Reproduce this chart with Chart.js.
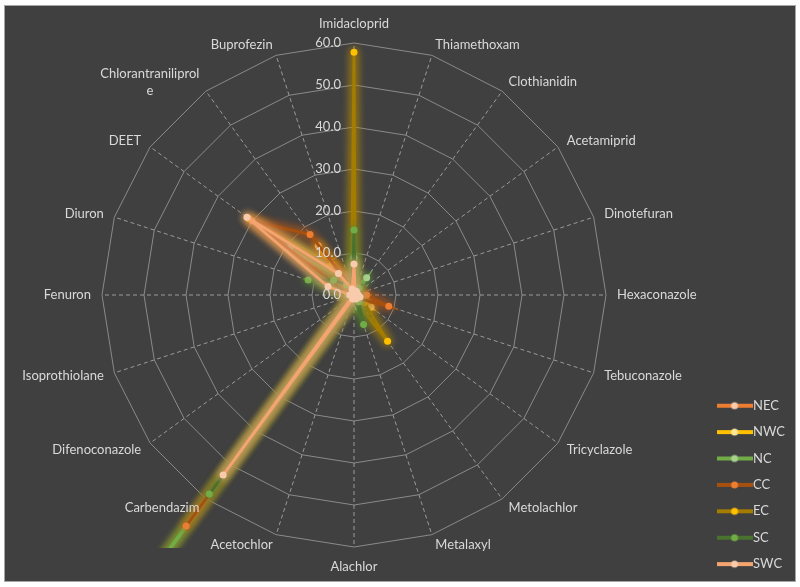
<!DOCTYPE html>
<html>
<head>
<meta charset="utf-8">
<script src="https://cdn.jsdelivr.net/npm/chart.js@4.4.1/dist/chart.umd.min.js"></script>
<style>
  html, body { margin: 0; padding: 0; background: #ffffff; }
  canvas { display: block; }
</style>
</head>
<body>
<canvas id="c" width="800" height="587"></canvas>
<script>
// ---------- data ----------
const categories = ['Imidacloprid','Thiamethoxam','Clothianidin','Acetamiprid','Dinotefuran','Hexaconazole',
  'Tebuconazole','Tricyclazole','Metolachlor','Metalaxyl','Alachlor','Acetochlor','Carbendazim',
  'Difenoconazole','Isoprothiolane','Fenuron','Diuron','DEET',['Chlorantraniliprol','e'],'Buprofezin'];

const seriesNames = ['NEC','NWC','NC','CC','EC','SC','SWC'];

const NEC = [2.5, 1.0, 1.5, 0.5, 0.5, 1.5, 2.0, 1.0, 1.0, 0.8, 0.3, 0.5, 1.5, 0.5, 0.5, 1.0, 2.5, 3.0, 3.0, 1.5];
const NWC = [3.0, 1.0, 1.0, 0.5, 0.5, 1.0, 2.0, 5.0, 2.0, 1.0, 0.5, 1.0, 2.0, 0.5, 0.5, 1.0, 3.0, 5.0, 14.5, 2.0];
const NC  = [8.9, 2.0, 5.1, 1.0, 0.5, 1.0, 1.5, 1.0, 2.0, 3.0, 1.0, 2.0, 95.0, 1.0, 0.5, 1.5, 2.5, 18.9, 4.0, 2.0];
const CC  = [2.0, 1.0, 1.0, 0.5, 1.0, 3.0, 8.7, 1.5, 1.0, 1.0, 0.5, 1.0, 68.0, 0.5, 0.5, 1.0, 2.0, 30.0, 17.8, 2.0];
const EC  = [57.8, 1.0, 1.5, 0.5, 0.5, 1.0, 2.0, 3.0, 13.6, 2.0, 0.5, 1.0, 88.0, 0.5, 0.5, 1.0, 3.0, 31.0, 9.0, 2.0];
const SC  = [15.5, 1.0, 2.0, 0.5, 0.5, 1.0, 1.5, 1.0, 2.0, 7.4, 0.5, 1.0, 58.6, 0.5, 0.5, 1.5, 11.5, 6.0, 3.0, 1.5];
const SWC = [7.4, 1.0, 1.0, 0.5, 0.5, 1.0, 1.5, 1.0, 1.0, 1.0, 0.5, 1.0, 53.0, 0.5, 0.5, 1.0, 6.5, 31.5, 6.3, 1.5];

const tickLabels = ['0.0','10.0','20.0','30.0','40.0','50.0','60.0'];
const scaleMin = 0, scaleMax = 60, scaleStep = 10;

// ---------- styles ----------
const seriesValues = [NEC, NWC, NC, CC, EC, SC, SWC];
const lineColors  = ['#ED7D31','#FFC000','#70AD47','#A5500F','#A37C00','#4A722F','#F4A46E'];
const pointColors = ['#F8CBAD','#FFE699','#A9D18E','#ED7D31','#FFC000','#70AD47','#F8CBAD'];
const glowColors  = ['#ED7D31','#FFC000','#70AD47','#C55A11','#BF9000','#548235','#F4B183'];
// drawing priority: higher is drawn first (further back)
const drawOrder   = [6, 5, 3, 2, 4, 1, 0];
const TEXT = '#d9d9d9';
const CLIP_INSET_BOTTOM = 36;

Chart.defaults.font.family = 'Lato, "Open Sans", sans-serif';
Chart.defaults.font.size = 13;
Chart.defaults.color = TEXT;

function legendIcon(line, point) {
  const c = document.createElement('canvas');
  c.width = 36; c.height = 10;
  const g = c.getContext('2d');
  g.strokeStyle = line; g.lineWidth = 4;
  g.beginPath(); g.moveTo(0, 5); g.lineTo(36, 5); g.stroke();
  g.fillStyle = point;
  g.beginPath(); g.arc(18, 5, 3.5, 0, Math.PI * 2); g.fill();
  return c;
}
const icons = seriesNames.map((n, i) => legendIcon(lineColors[i], pointColors[i]));

const bgPlugin = {
  id: 'bg',
  beforeDraw(chart) {
    const c = chart.ctx;
    c.save();
    c.fillStyle = '#ffffff';
    c.fillRect(0, 0, chart.width, chart.height);
    c.fillStyle = '#404040';
    c.fillRect(4, 5, chart.width - 8, chart.height - 10);
    c.strokeStyle = '#a6a6a6';
    c.lineWidth = 1;
    c.strokeRect(4.5, 5.5, chart.width - 9, chart.height - 11);
    c.restore();
  }
};

const glowPlugin = {
  id: 'glow',
  beforeDatasetDraw(chart, args) {
    const pts = args.meta.data;
    const ds = chart.data.datasets[args.index];
    const a = chart.chartArea;
    const c = chart.ctx;
    c.save();
    c.beginPath();
    c.rect(a.left, a.top, a.right - a.left, a.bottom - a.top - CLIP_INSET_BOTTOM);
    c.clip();
    c.filter = 'blur(3px)';
    c.beginPath();
    pts.forEach((p, i) => { if (i) c.lineTo(p.x, p.y); else c.moveTo(p.x, p.y); });
    c.closePath();
    c.strokeStyle = ds.glowColor;
    c.globalAlpha = 0.55;
    c.lineWidth = 11;
    c.lineJoin = 'round';
    c.stroke();
    c.restore();
  }
};

const labelsPlugin = {
  id: 'radarTexts',
  afterDatasetsDraw(chart) {
    const s = chart.scales.r;
    const c = chart.ctx;
    c.save();
    c.fillStyle = TEXT;
    c.font = '13px Lato, "Open Sans", sans-serif';
    // value labels, left of the vertical axis
    c.textAlign = 'right';
    c.textBaseline = 'middle';
    tickLabels.forEach((t, i) => {
      const r = s.getDistanceFromCenterForValue(scaleMin + i * scaleStep);
      c.fillText(t, s.xCenter - 13, s.yCenter - r);
    });
    // category labels
    const n = categories.length;
    const lh = 17;
    categories.forEach((lab, i) => {
      const lines = Array.isArray(lab) ? lab : [lab];
      const p = s.getPointPosition(i, s.drawingArea + 11);
      const deg = Math.round(i * 360 / n);
      const bw = Math.max(...lines.map(l => c.measureText(l).width));
      const bh = lines.length * lh;
      let cx, top;
      if (deg === 0) { cx = p.x; top = p.y - bh; }
      else if (deg === 180) { cx = p.x; top = p.y; }
      else if (deg < 180) { cx = p.x + bw / 2; top = p.y - bh / 2; }
      else { cx = p.x - bw / 2; top = p.y - bh / 2; }
      c.textAlign = 'center';
      c.textBaseline = 'middle';
      lines.forEach((l, k) => c.fillText(l, cx, top + lh * k + lh / 2));
    });
    c.restore();
  }
};

const datasets = seriesNames.map((name, i) => ({
  label: name,
  data: seriesValues[i],
  borderColor: lineColors[i],
  backgroundColor: lineColors[i],
  borderWidth: 2.8,
  fill: false,
  pointRadius: 3.5,
  pointBackgroundColor: pointColors[i],
  pointBorderColor: pointColors[i],
  pointBorderWidth: 0,
  glowColor: glowColors[i],
  order: drawOrder[i],
  clip: { left: 10, top: 10, right: 10, bottom: -CLIP_INSET_BOTTOM }
}));

new Chart(document.getElementById('c'), {
  type: 'radar',
  data: { labels: categories, datasets },
  plugins: [bgPlugin, glowPlugin, labelsPlugin],
  options: {
    responsive: false,
    animation: false,
    devicePixelRatio: 1,
    layout: { padding: { left: -10, right: 5, top: 6, bottom: 3 } },
    plugins: {
      tooltip: { enabled: false },
      legend: {
        position: 'right',
        align: 'end',
        labels: {
          color: TEXT,
          font: { size: 13 },
          usePointStyle: true,
          pointStyleWidth: 24,
          padding: 13.4,
          generateLabels: (chart) => chart.data.datasets.map((ds, i) => ({
            text: ds.label,
            pointStyle: icons[i],
            datasetIndex: i,
            fontColor: TEXT,
            hidden: false,
            lineWidth: 0,
            strokeStyle: 'rgba(0,0,0,0)',
            fillStyle: 'rgba(0,0,0,0)'
          }))
        }
      }
    },
    scales: {
      r: {
        min: scaleMin,
        max: scaleMax,
        ticks: {
          display: true,
          stepSize: scaleStep,
          color: 'rgba(0,0,0,0)',
          showLabelBackdrop: false,
          backdropPadding: 30.5,
          font: { size: 13 }
        },
        grid: { color: '#8a8a8a', lineWidth: 1, circular: false },
        angleLines: { display: true, color: '#9a9a9a', lineWidth: 1, borderDash: [4, 3] },
        pointLabels: { display: false }
      }
    }
  }
});
</script>
</body>
</html>
